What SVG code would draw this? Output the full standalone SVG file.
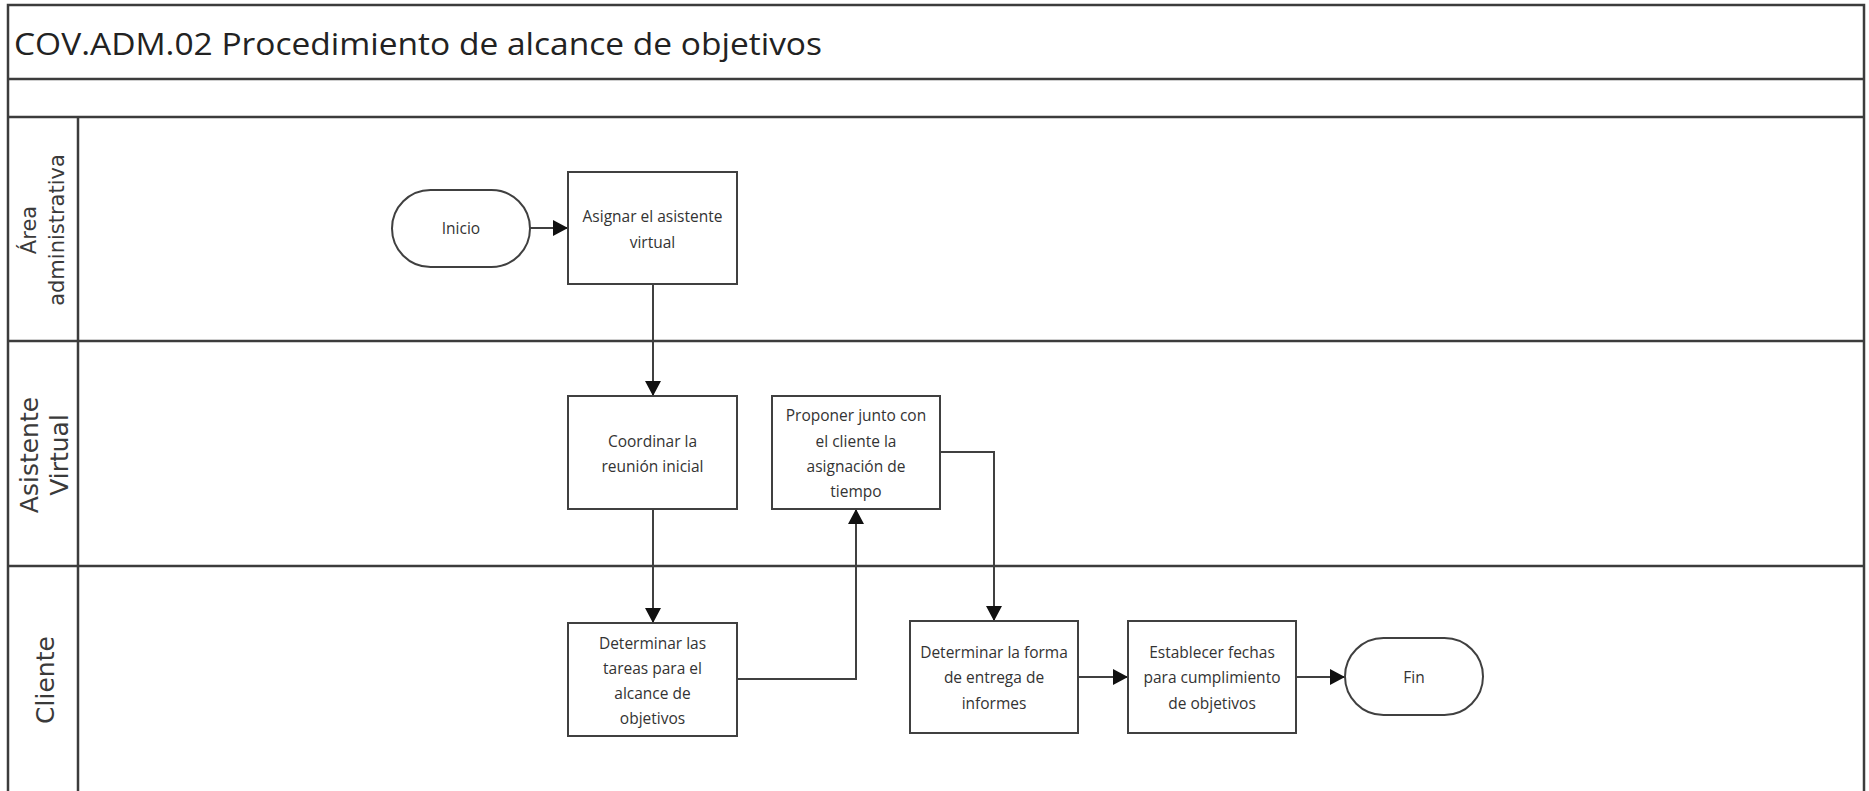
<svg xmlns="http://www.w3.org/2000/svg" width="1869" height="791" viewBox="0 0 1869 791">
  <style>
    .frame { fill: none; stroke: #3c3c3c; stroke-width: 2.5; }
    .box { fill: #ffffff; stroke: #404040; stroke-width: 2; }
    .conn { fill: none; stroke: #404040; stroke-width: 2; }
    .txt { font-family: "Open Sans", "Liberation Sans", sans-serif; font-size: 15.5px; fill: #333333; text-anchor: middle; dominant-baseline: central; }
    .lane { font-family: "DejaVu Sans", "Liberation Sans", sans-serif; fill: #3a3a3a; text-anchor: middle; dominant-baseline: central; }
    .title { font-family: "Open Sans", "Liberation Sans", sans-serif; font-size: 31px; fill: #222222; }
  </style>
  <defs>
    <marker id="arrow" viewBox="0 0 15 16" refX="15" refY="8" markerWidth="15" markerHeight="16" markerUnits="userSpaceOnUse" orient="auto">
      <path d="M0,0 L15,8 L0,16 Z" fill="#111111"/>
    </marker>
  </defs>

  <rect width="1869" height="791" fill="#ffffff"/>

  <!-- pool frame, title rows and swimlanes -->
  <g id="pool">
    <path class="frame" d="M8,800 V5 H1864 V800"/>
    <line class="frame" x1="8" y1="79" x2="1864" y2="79"/>
    <line class="frame" x1="8" y1="117" x2="1864" y2="117"/>
    <line class="frame" x1="8" y1="341" x2="1864" y2="341"/>
    <line class="frame" x1="8" y1="566" x2="1864" y2="566"/>
    <line class="frame" x1="78" y1="117" x2="78" y2="800"/>
    <text class="title" x="14" y="55" textLength="808" lengthAdjust="spacingAndGlyphs">COV.ADM.02 Procedimiento de alcance de objetivos</text>
  </g>

  <g id="lane-area-administrativa">
    <g transform="translate(43,230) rotate(-90)">
      <text class="lane" x="0" y="-14" font-size="21">Área</text>
      <text class="lane" x="0" y="14" font-size="21">administrativa</text>
    </g>
  </g>
  <g id="lane-asistente-virtual">
    <g transform="translate(44,455) rotate(-90)">
      <text class="lane" x="0" y="-15" font-size="25">Asistente</text>
      <text class="lane" x="0" y="15" font-size="25">Virtual</text>
    </g>
  </g>
  <g id="lane-cliente">
    <text class="lane" font-size="25" transform="translate(45,680) rotate(-90)">Cliente</text>
  </g>

  <!-- connectors -->
  <g id="connectors">
    <path class="conn" d="M530,228 H568" marker-end="url(#arrow)"/>
    <path class="conn" d="M653,284 V396" marker-end="url(#arrow)"/>
    <path class="conn" d="M653,509 V623" marker-end="url(#arrow)"/>
    <path class="conn" d="M737,679 H856 V509" marker-end="url(#arrow)"/>
    <path class="conn" d="M940,452 H994 V621" marker-end="url(#arrow)"/>
    <path class="conn" d="M1078,677 H1128" marker-end="url(#arrow)"/>
    <path class="conn" d="M1296,677 H1345" marker-end="url(#arrow)"/>
  </g>

  <!-- nodes -->
  <g id="inicio">
    <rect class="box" x="392" y="190" width="138" height="77" rx="38.5"/>
    <text class="txt" x="461" y="228">Inicio</text>
  </g>
  <g id="asignar-asistente">
    <rect class="box" x="568" y="172" width="169" height="112"/>
    <text class="txt" x="652.5" y="216">Asignar el asistente</text>
    <text class="txt" x="652.5" y="242">virtual</text>
  </g>
  <g id="coordinar-reunion">
    <rect class="box" x="568" y="396" width="169" height="113"/>
    <text class="txt" x="652.5" y="441">Coordinar la</text>
    <text class="txt" x="652.5" y="466">reunión inicial</text>
  </g>
  <g id="proponer-tiempo">
    <rect class="box" x="772" y="396" width="168" height="113"/>
    <text class="txt" x="856" y="415">Proponer junto con</text>
    <text class="txt" x="856" y="441">el cliente la</text>
    <text class="txt" x="856" y="466">asignación de</text>
    <text class="txt" x="856" y="491">tiempo</text>
  </g>
  <g id="determinar-tareas">
    <rect class="box" x="568" y="623" width="169" height="113"/>
    <text class="txt" x="652.5" y="643">Determinar las</text>
    <text class="txt" x="652.5" y="668">tareas para el</text>
    <text class="txt" x="652.5" y="693">alcance de</text>
    <text class="txt" x="652.5" y="718">objetivos</text>
  </g>
  <g id="determinar-forma">
    <rect class="box" x="910" y="621" width="168" height="112"/>
    <text class="txt" x="994" y="652">Determinar la forma</text>
    <text class="txt" x="994" y="677">de entrega de</text>
    <text class="txt" x="994" y="703">informes</text>
  </g>
  <g id="establecer-fechas">
    <rect class="box" x="1128" y="621" width="168" height="112"/>
    <text class="txt" x="1212" y="652">Establecer fechas</text>
    <text class="txt" x="1212" y="677">para cumplimiento</text>
    <text class="txt" x="1212" y="703">de objetivos</text>
  </g>
  <g id="fin">
    <rect class="box" x="1345" y="638" width="138" height="77" rx="38.5"/>
    <text class="txt" x="1414" y="677">Fin</text>
  </g>
</svg>
